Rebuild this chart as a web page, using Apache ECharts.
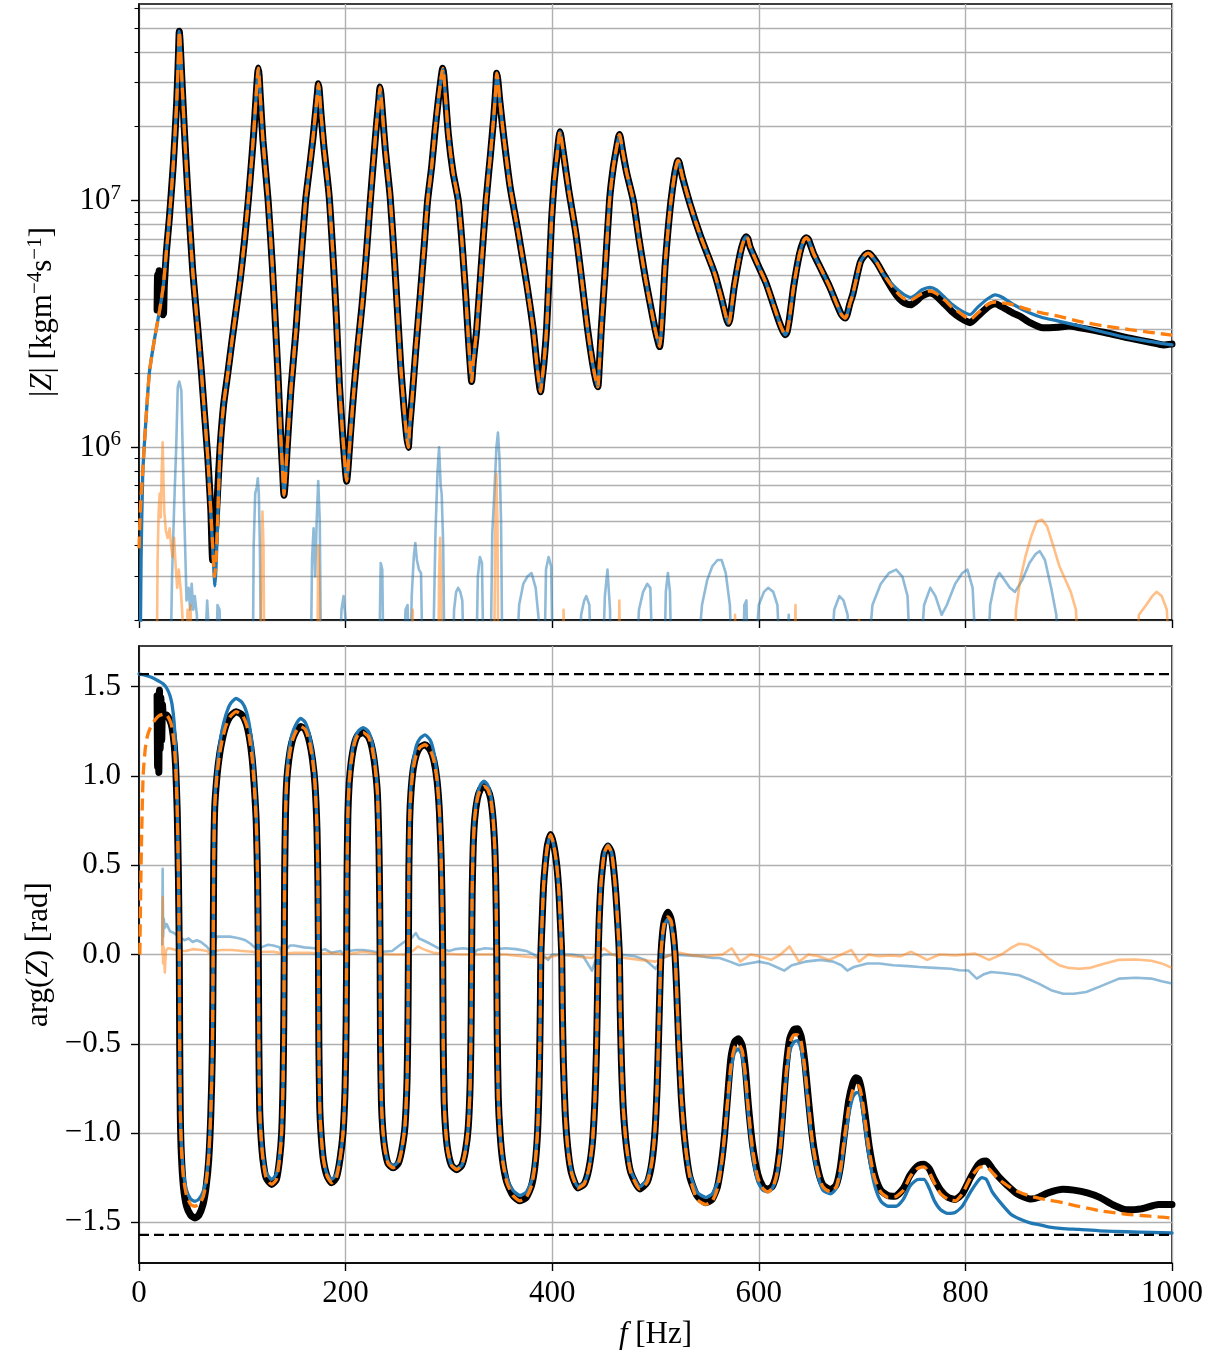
<!DOCTYPE html>
<html><head><meta charset="utf-8">
<script src="https://cdn.jsdelivr.net/npm/echarts@6/dist/echarts.min.js"></script>
<style>html,body{margin:0;padding:0;background:#fff}#c{width:1216px;height:1358px}</style>
</head><body><div id="c"></div>
<script>
// ---------- ticks ----------
const xTicks = [0, 200, 400, 600, 800, 1000];
const zMajor = [1e6, 1e7];
const zMinor = [2e5,3e5,4e5,5e5,6e5,7e5,8e5,9e5,2e6,3e6,4e6,5e6,6e6,7e6,8e6,9e6,2e7,3e7,4e7,5e7,6e7];
const phTicks = [-1.5, -1.0, -0.5, 0.0, 0.5, 1.0, 1.5];
const phLimits = [1.5708, -1.5708];

// ---------- |Z| ----------
const zBlueHead = [[0,1e4],[1,1.0e5],[2,3.5e5],[3.5,7.5e5]];
const zOrangeHead = [[0,3.9e5],[1,5.2e5],[2,6.3e5],[3.5,7.8e5]];
const zRise = [[5,1.0e6],[10,2.0e6],[15,2.75e6],[20,3.6e6],[23.5,4.5e6]];
const zBlackBlob = [[17.5,3.6e6],[18,5.0e6],[18.8,4.4e6],[19.5,5.2e6],[20.3,4.0e6],[21,4.8e6],[21.8,3.6e6],[22.5,4.2e6],[23.2,3.45e6],[23.8,3.5e6],[24.5,4.5e6]];
const zCommonA = [[26.5,6.2e6],[29.4,8.5e6],[33.2,1.4e7],[36.5,2.5e7],[38.2,3.9e7],[39,4.85e7],[39.8,4.4e7],[41.5,3.1e7],[44,1.9e7],[47.7,1.0e7],[52,5.2e6],[57,3.0e6],[60.5,2.0e6],[63.5,1.35e6],[66.5,9.2e5]];
const zBlueT1 = [[69.5,5.5e5],[71.5,3.8e5],[73.6,2.75e5],[74.6,3.3e5],[76,4.8e5]];
const zOrangeT1 = [[69.5,5.5e5],[71.5,3.9e5],[73.2,3.0e5],[74.6,3.5e5],[76,4.9e5]];
const zBlackT1 = [[69.5,5.6e5],[71.3,3.5e5],[72.5,3.7e5],[74.6,5.0e5],[76,6.5e5]];
const zCommonB = [[78.5,1.0e6],[82,1.5e6],[86,2.0e6],[90,2.7e6],[94,3.6e6],[98,4.8e6],[102,6.8e6],[105.8,1.0e7],[109,1.45e7],[111.5,2.0e7],[113.5,2.7e7],[114.8,3.25e7],[115.5,3.44e7],[116.3,3.2e7],[117.5,2.6e7],[120,1.75e7],[125,1.0e7],[129,5.5e6],[132,3.2e6],[134.5,2.0e6],[137,1.15e6],[139,8.0e5],[140.4,6.4e5],[141.5,7.2e5],[143.5,1.0e6],[147,1.7e6],[152,3.0e6],[156,5.2e6],[161.3,1.0e7],[165,1.35e7],[168.5,1.8e7],[171,2.3e7],[172.8,2.75e7],[173.6,2.97e7],[174.5,2.8e7],[176,2.3e7],[179,1.65e7],[184,1.05e7],[188,5.8e6],[191,3.4e6],[194,1.8e6],[197,1.15e6],[199.5,8.4e5],[201,7.3e5],[202.3,8.2e5],[204.5,1.1e6],[208,1.7e6],[212,2.6e6],[216,3.8e6],[220,6.0e6],[223.5,9.5e6],[227,1.45e7],[230,2.05e7],[232.3,2.6e7],[233.3,2.88e7],[234.2,2.7e7],[235.7,2.25e7],[238.5,1.6e7],[243,1.05e7],[247,6.0e6],[250.5,3.4e6],[253.5,2.1e6],[256.5,1.45e6],[259,1.12e6],[260.7,1.0e6],[262,1.2e6],[264.5,1.6e6],[268,2.5e6],[272,4.0e6],[276,6.5e6],[279.4,1.0e7],[283.3,1.37e7],[286.5,1.9e7],[289.8,2.56e7],[292.5,3.15e7],[294,3.43e7],[295,3.25e7],[296.5,2.7e7],[299.5,1.85e7],[304,1.3e7],[309.1,1.0e7],[313,6.5e6],[316.5,4.0e6],[319,2.7e6],[321,2.05e6],[322,1.85e6],[323.5,2.2e6],[326.9,3.0e6],[331,5.2e6],[336,1.0e7],[340,1.5e7],[343.5,2.2e7],[345.5,2.9e7],[346.3,3.28e7],[347.3,3.1e7],[349,2.6e7],[352.7,1.87e7],[359.2,1.14e7],[367.2,7.4e6],[375.3,4.6e6],[381.7,3.0e6],[385.5,2.1e6],[388.8,1.68e6],[390,1.85e6],[392,2.2e6],[394.5,3.0e6],[397,5.0e6],[399.5,8.5e6],[402,1.2e7],[404.5,1.5e7],[406.5,1.8e7],[407.5,1.9e7],[408.5,1.82e7],[411.4,1.5e7],[416,1.1e7],[422.8,7.4e6],[428.5,4.8e6],[434.3,3.0e6],[439,2.2e6],[442.5,1.85e6],[444.2,1.76e6],[445.5,2.1e6],[447.5,3.0e6],[451,5.0e6],[455.5,1.0e7],[459,1.35e7],[462.5,1.65e7],[465,1.85e7],[466,1.8e7],[468,1.6e7],[472,1.3e7],[478.5,1.0e7],[484,7.0e6],[490,4.9e6],[496,3.6e6],[500.5,2.9e6],[504,2.56e6],[505.5,2.9e6],[507.5,4.0e6],[509.2,5.4e6],[512,7.5e6],[515,1.0e7],[518.5,1.28e7],[520.8,1.42e7],[521.8,1.45e7],[523,1.42e7],[526,1.25e7],[534,9.5e6],[543.7,7.15e6],[557,5.1e6],[564,4.0e6],[568.5,3.35e6],[570.4,3.18e6],[572,3.3e6],[574,3.8e6],[576.3,4.5e6],[582,6.1e6],[585.5,6.9e6],[587.7,7.13e6],[589.5,7.0e6],[591.5,6.5e6],[599,5.5e6],[607,4.63e6],[614,3.8e6],[620,3.2e6],[623.5,2.95e6],[625.8,2.86e6],[627.5,2.95e6],[630,3.4e6],[633.8,4.5e6],[639.5,6.1e6],[643.5,6.9e6],[646,7.07e6],[648,6.95e6],[653,6.1e6],[660,5.3e6],[668.3,4.5e6],[675,3.85e6],[680,3.45e6],[683.5,3.34e6],[685.5,3.45e6],[688,3.8e6],[691.2,4.2e6],[698.1,5.6e6],[702.5,6.0e6],[705.8,6.12e6],[708,6.05e6],[714.2,5.6e6],[721,5.0e6]];
const zBlueTail = [[729.6,4.55e6],[736,4.3e6],[741,4.15e6],[747,4.05e6],[752,4.15e6],[758,4.35e6],[765.7,4.45e6],[772,4.35e6],[780,4.05e6],[787,3.8e6],[795,3.6e6],[804.5,3.45e6],[812,3.7e6],[821.6,4.0e6],[828.7,4.15e6],[836,4.05e6],[846,3.8e6],[862.5,3.5e6],[875,3.35e6],[890,3.25e6],[911,3.1e6],[935,2.92e6],[959,2.77e6],[980,2.68e6],[1000,2.6e6]];
const zOrangeTail = [[729.6,4.45e6],[736,4.15e6],[741,4.0e6],[747,3.95e6],[752,4.05e6],[758,4.2e6],[765.7,4.3e6],[772,4.2e6],[780,3.95e6],[787,3.7e6],[795,3.5e6],[804.5,3.3e6],[812,3.5e6],[821.6,3.8e6],[828.7,3.88e6],[836,3.85e6],[846,3.78e6],[862.5,3.6e6],[875,3.5e6],[890,3.4e6],[911,3.23e6],[935,3.1e6],[959,3.0e6],[980,2.92e6],[1000,2.85e6]];
const zBlackTail = [[729.6,4.35e6],[736,4.0e6],[741,3.85e6],[747,3.78e6],[752,3.9e6],[758,4.1e6],[765.7,4.22e6],[772,4.1e6],[780,3.8e6],[787,3.55e6],[795,3.35e6],[804.5,3.2e6],[812,3.4e6],[821.6,3.7e6],[828.7,3.82e6],[836,3.7e6],[846,3.5e6],[852.9,3.4e6],[862.5,3.2e6],[875,3.05e6],[890,3.07e6],[900,3.1e6],[911,3.05e6],[935,2.92e6],[959,2.77e6],[980,2.66e6],[991.6,2.6e6],[1000,2.62e6]];

const errBlueZ = [[30,1e5],[32,3.0e5],[34,5.7e5],[36,1.0e6],[37.5,1.75e6],[39,1.85e6],[41,1.7e6],[42,1.1e6],[43.5,6.0e5],[45,3.5e5],[46,2.4e5],[48,2.7e5],[49.5,2.2e5],[51,2.8e5],[52.5,2.2e5],[54,2.5e5],[56,2.1e5],[58,1e5],[62,1e5],[66,2.4e5],[67,2.0e5],[68,1e5],[74,1e5],[76,2.3e5],[78,2.2e5],[80,1e5],[110,1e5],[111,4.0e5],[112.5,6.5e5],[114,6.9e5],[115,7.5e5],[116,6.5e5],[117,4.0e5],[118.5,1e5],[166,1e5],[167.5,3.5e5],[169,4.7e5],[170.5,3.0e5],[172,5.0e5],[173.5,7.3e5],[175,5.0e5],[176.5,1e5],[193,1e5],[196,2.2e5],[198,2.5e5],[200,2.0e5],[202,1e5],[232,1e5],[234,3.4e5],[235.5,3.2e5],[237,1e5],[255,1e5],[258,2.2e5],[260,2.3e5],[262,1e5],[264,2.5e5],[266,3.6e5],[267.5,4.1e5],[269,3.5e5],[271,3.2e5],[273,3.1e5],[275,1e5],[284,1e5],[287,4.5e5],[289,8.0e5],[290.5,1.0e6],[292,7.0e5],[293,6.5e5],[294.5,4.0e5],[296,1e5],[303,1e5],[305,2.2e5],[307,2.6e5],[309,2.7e5],[311,2.6e5],[313,2.4e5],[315,1e5],[326,1e5],[328,3.0e5],[330,3.6e5],[332,3.4e5],[334,1e5],[340,1e5],[342,4.5e5],[344,6.5e5],[346,1.0e6],[347.5,1.15e6],[349,9.0e5],[350.5,5.0e5],[352,1e5],[364,1e5],[368,2.3e5],[372,2.8e5],[376,3.0e5],[380,3.1e5],[384,2.7e5],[387,2.0e5],[389,1e5],[392,1e5],[394,3.2e5],[396.5,3.6e5],[399,3.3e5],[401,1e5],[425,1e5],[428,2.1e5],[431,2.4e5],[433,2.5e5],[436,2.3e5],[438,1e5],[448,1e5],[451,2.5e5],[453.5,3.2e5],[456,2.2e5],[457,1e5],[480,1e5],[484,2.2e5],[488,2.6e5],[492,2.8e5],[495,2.7e5],[498,1e5],[508,1e5],[510,2.6e5],[512,3.1e5],[514,2.6e5],[516,1e5],[538,1e5],[545,2.3e5],[550,2.9e5],[555,3.3e5],[560,3.5e5],[564,3.5e5],[568,3.1e5],[572,2.3e5],[575,1e5],[584,1e5],[586,2.3e5],[588,2.4e5],[590,1e5],[594,1e5],[600,2.3e5],[605,2.6e5],[609,2.7e5],[614,2.6e5],[618,2.3e5],[622,1e5],[627,1e5],[629,2.1e5],[631,1e5],[668,1e5],[673,2.2e5],[678,2.5e5],[682,2.4e5],[686,2.1e5],[688,1e5],[703,1e5],[710,2.3e5],[718,2.8e5],[726,3.1e5],[733,3.2e5],[739,3.0e5],[744,2.5e5],[748,1e5],[754,1e5],[760,2.3e5],[766,2.7e5],[771,2.5e5],[777,2.1e5],[782,2.3e5],[790,2.8e5],[797,3.1e5],[802,3.2e5],[807,2.7e5],[812,1e5],[820,1e5],[824,2.3e5],[829,2.9e5],[833,3.1e5],[838,2.9e5],[843,2.7e5],[848,2.6e5],[855,2.9e5],[862,3.4e5],[868,3.7e5],[872,3.8e5],[877,3.5e5],[883,2.7e5],[888,2.1e5],[891,1e5],[1000,1e5]];
const errOrangeZ = [[17,1e5],[18,3.5e5],[19,5.5e5],[20,6.5e5],[21,5.2e5],[22,8.0e5],[22.9,1.05e6],[23.8,7.0e5],[24.5,5.5e5],[26,4.6e5],[27.7,4.3e5],[29.7,4.7e5],[31,4.0e5],[32.5,3.6e5],[34,4.3e5],[35.5,3.3e5],[37,2.7e5],[38.5,3.2e5],[40.6,2.6e5],[42,2.1e5],[43,1e5],[46,1e5],[47,2.2e5],[48,2.0e5],[50,2.3e5],[51,1e5],[117,1e5],[118.5,3.0e5],[119.5,5.5e5],[120.5,4.0e5],[121.5,1e5],[172.5,1e5],[173.5,4.0e5],[174.5,3.0e5],[175.5,1e5],[264,1e5],[265,2.2e5],[266,1e5],[289.5,1e5],[290.5,3.0e5],[291.5,4.3e5],[292.5,3.0e5],[293.5,1e5],[343.5,1e5],[345,5.0e5],[346,7.8e5],[347,5.0e5],[348,1e5],[410,1e5],[411,2.2e5],[412,1e5],[464,1e5],[465,2.4e5],[466,1e5],[576,1e5],[577,2.1e5],[578,1e5],[634,1e5],[635.5,2.3e5],[636.5,1e5],[696,1e5],[697,2.0e5],[698,1e5],[846,1e5],[849,2.2e5],[853,2.9e5],[858,3.6e5],[864,4.4e5],[869,5.0e5],[874,5.1e5],[879,4.8e5],[885,4.0e5],[891,3.3e5],[897,2.9e5],[902,2.6e5],[907,2.2e5],[911,1e5],[962,1e5],[968,2.1e5],[975,2.3e5],[981,2.5e5],[985,2.6e5],[990,2.5e5],[995,2.2e5],[999,1e5],[1000,1e5]];

// ---------- arg(Z) ----------
const phBlue = [[0,1.571],[5,1.566],[10,1.557],[15,1.545],[19,1.532],[23.6,1.515],[27,1.49],[30,1.45],[32,1.40],[34,1.30],[35.5,1.15],[37,0.85],[38.2,0.45],[39,0.0],[39.4,-0.5],[40,-0.85],[41,-1.05],[43,-1.22],[46,-1.32],[50,-1.37],[54.2,-1.382],[58,-1.37],[62,-1.33],[65,-1.26],[67.5,-1.12],[69.5,-0.88],[71,-0.55],[71.8,0.0],[72.3,0.5],[73.3,0.85],[75.5,1.04],[78,1.17],[80.5,1.26],[84,1.34],[88,1.40],[93.9,1.434],[100,1.41],[104,1.36],[107,1.28],[109.5,1.17],[111.5,1.0],[113.5,0.78],[114.8,0.45],[115.5,0.0],[116,-0.5],[116.8,-0.85],[118.1,-1.0],[120,-1.13],[123,-1.22],[128.4,-1.26],[133,-1.23],[136,-1.13],[138.1,-0.98],[139.5,-0.7],[140.2,-0.35],[140.6,0.0],[141,0.45],[141.8,0.8],[143,1.0],[145,1.13],[148,1.23],[152,1.29],[156.5,1.322],[161,1.3],[165,1.23],[168,1.12],[170.4,0.98],[172.3,0.72],[173.2,0.4],[173.7,0.0],[174.1,-0.5],[175,-0.85],[176.3,-1.0],[178.5,-1.14],[182,-1.23],[186.5,-1.26],[191,-1.23],[194.5,-1.14],[197.5,-1.0],[199.5,-0.75],[200.5,-0.4],[201,0.0],[201.4,0.45],[202.2,0.8],[203.5,0.98],[205.5,1.1],[208.5,1.2],[212,1.25],[217,1.271],[222,1.25],[225.5,1.19],[228.5,1.08],[230.8,0.92],[232.3,0.62],[233,0.3],[233.4,0.0],[233.8,-0.5],[234.7,-0.82],[236,-0.97],[238,-1.08],[241,-1.16],[246,-1.185],[251,-1.16],[254.5,-1.08],[257.5,-0.95],[259.5,-0.7],[260.4,-0.35],[260.8,0.0],[261.2,0.45],[262,0.78],[263.3,0.95],[265.5,1.08],[268.5,1.17],[272,1.21],[276.9,1.23],[282,1.2],[285.5,1.13],[288.5,1.0],[290.8,0.82],[292.5,0.55],[293.5,0.25],[294,0.0],[294.5,-0.5],[295.4,-0.82],[296.8,-0.98],[299,-1.1],[302.5,-1.18],[307.5,-1.2],[312.5,-1.18],[316,-1.1],[318.7,-0.97],[320.6,-0.72],[321.6,-0.35],[322,0.0],[322.5,0.35],[323.5,0.62],[325,0.78],[327.5,0.89],[330.5,0.95],[334,0.971],[337.5,0.95],[340.5,0.89],[343,0.76],[344.8,0.55],[345.8,0.27],[346.3,0.0],[346.8,-0.45],[347.8,-0.8],[349.5,-1.0],[352,-1.14],[356,-1.25],[362,-1.32],[368.8,-1.35],[375,-1.33],[380,-1.27],[383.5,-1.15],[386,-0.95],[387.7,-0.62],[388.6,-0.25],[389,0.0],[390.3,0.2],[391.6,0.38],[393.2,0.5],[395.5,0.61],[398.5,0.67],[401.5,0.61],[404.4,0.5],[406.5,0.35],[408,0.17],[409.2,0.0],[409.8,-0.3],[410.8,-0.6],[412.5,-0.88],[415,-1.08],[418.5,-1.21],[425,-1.3],[431,-1.28],[435.5,-1.2],[439,-1.05],[441.3,-0.82],[442.8,-0.55],[443.8,-0.25],[444.5,0.0],[445.5,0.2],[447,0.38],[448.5,0.48],[450.5,0.57],[454,0.612],[457.5,0.57],[459.5,0.48],[461.5,0.35],[463.5,0.17],[465,0.0],[465.8,-0.3],[467,-0.6],[469,-0.88],[472,-1.08],[476,-1.21],[484.8,-1.3],[492,-1.26],[496.5,-1.15],[499.5,-0.98],[501.5,-0.75],[503,-0.46],[504.2,-0.2],[505.3,0.0],[507,0.11],[509,0.17],[512,0.2],[515,0.17],[517,0.1],[518.9,0.0],[520.5,-0.2],[522.5,-0.5],[525,-0.8],[528.5,-1.05],[533,-1.22],[540,-1.33],[548.6,-1.36],[555,-1.34],[560,-1.28],[564,-1.16],[567,-1.01],[570,-0.82],[573,-0.65],[576.5,-0.55],[580.2,-0.529],[584,-0.57],[587,-0.7],[590,-0.9],[594,-1.12],[599,-1.27],[604,-1.32],[608.5,-1.33],[613,-1.31],[617,-1.25],[620.5,-1.11],[623.5,-0.91],[626.5,-0.69],[630,-0.54],[634,-0.49],[637.5,-0.482],[641,-0.53],[644.5,-0.66],[648,-0.86],[652,-1.07],[657,-1.23],[662,-1.32],[669.6,-1.34],[675,-1.31],[679,-1.22],[683,-1.05],[687,-0.9],[691,-0.8],[694,-0.775],[696.6,-0.773],[699.5,-0.83],[703,-0.97],[707,-1.14],[712,-1.29],[718,-1.38],[725,-1.41],[733,-1.41],[740,-1.37],[746,-1.3],[751,-1.27],[755,-1.26],[760,-1.26],[765,-1.31],[770,-1.38],[776,-1.43],[783,-1.45],[790,-1.445],[797,-1.41],[805,-1.33],[812,-1.27],[816,-1.25],[820.3,-1.26],[826,-1.33],[832.5,-1.38],[844,-1.455],[852,-1.48],[863.5,-1.505],[871,-1.513],[880,-1.525],[894.5,-1.535],[910,-1.54],[930,-1.548],[956,-1.553],[980,-1.557],[1000,-1.56]];
const phOrangeHead = [[0.8,0.0],[1.5,0.3],[2.5,0.65],[4,1.0],[6,1.15],[8,1.22],[11,1.27],[15,1.31],[19,1.336]];
const phBlackBlob = [[17.5,1.45],[18,1.05],[18.6,1.35],[19.2,1.02],[19.8,1.48],[20.5,1.15],[21.2,1.44],[22,1.2],[22.8,1.4]];
const phCommonA = [[23.6,1.346],[27,1.34],[30,1.31],[32,1.27],[34,1.18],[35.5,1.05],[37,0.8],[38.2,0.42],[39,0.0],[39.4,-0.5]];
const phOrangeT1 = [[40,-0.88],[41,-1.08],[43,-1.25],[46,-1.35],[50,-1.40],[54.2,-1.41],[58,-1.40],[62,-1.36],[65,-1.28],[67.5,-1.13],[69.5,-0.88],[71,-0.55]];
const phBlackT1 = [[40,-0.9],[41,-1.12],[43,-1.3],[46,-1.41],[50,-1.46],[54.2,-1.476],[58,-1.46],[62,-1.4],[65,-1.3],[67.5,-1.15],[69.5,-0.9],[71,-0.55]];
const phCommonB = [[71.8,0.0],[72.3,0.5],[73.3,0.82],[75.5,1.0],[78,1.12],[80.5,1.2],[84,1.28],[88,1.33],[93.9,1.36],[100,1.34],[104,1.29],[107,1.21],[109.5,1.1],[111.5,0.95],[113.5,0.74],[114.8,0.42],[115.5,0.0],[116,-0.5],[116.8,-0.86],[118.1,-1.02],[120,-1.15],[123,-1.25],[128.4,-1.288],[133,-1.26],[136,-1.15],[138.1,-1.0],[139.5,-0.7],[140.2,-0.35],[140.6,0.0],[141,0.45],[141.8,0.78],[143,0.97],[145,1.09],[148,1.19],[152,1.25],[156.5,1.277],[161,1.26],[165,1.19],[168,1.09],[170.4,0.95],[172.3,0.7],[173.2,0.4],[173.7,0.0],[174.1,-0.5],[175,-0.86],[176.3,-1.01],[178.5,-1.15],[182,-1.24],[186.5,-1.279],[191,-1.25],[194.5,-1.15],[197.5,-1.0],[199.5,-0.75],[200.5,-0.4],[201,0.0],[201.4,0.45],[202.2,0.78],[203.5,0.96],[205.5,1.08],[208.5,1.18],[212,1.23],[217,1.243],[222,1.22],[225.5,1.16],[228.5,1.05],[230.8,0.9],[232.3,0.6],[233,0.3],[233.4,0.0],[233.8,-0.5],[234.7,-0.83],[236,-0.98],[238,-1.09],[241,-1.17],[246,-1.195],[251,-1.17],[254.5,-1.09],[257.5,-0.96],[259.5,-0.7],[260.4,-0.35],[260.8,0.0],[261.2,0.45],[262,0.75],[263.3,0.91],[265.5,1.04],[268.5,1.12],[272,1.16],[276.9,1.175],[282,1.145],[285.5,1.085],[288.5,0.975],[290.8,0.8],[292.5,0.54],[293.5,0.25],[294,0.0],[294.5,-0.5],[295.4,-0.82],[296.8,-0.98],[299,-1.1],[302.5,-1.18],[307.5,-1.205],[312.5,-1.18],[316,-1.1],[318.7,-0.97],[320.6,-0.72],[321.6,-0.35],[322,0.0],[322.5,0.34],[323.5,0.6],[325,0.76],[327.5,0.87],[330.5,0.925],[334,0.943],[337.5,0.925],[340.5,0.87],[343,0.74],[344.8,0.54],[345.8,0.26],[346.3,0.0],[346.8,-0.45],[347.8,-0.8],[349.5,-1.0],[352,-1.155],[356,-1.275],[362,-1.35],[368.8,-1.38],[375,-1.36],[380,-1.295],[383.5,-1.175],[386,-0.975],[387.7,-0.62],[388.6,-0.25],[389,0.0],[390.3,0.2],[391.6,0.38],[393.2,0.5],[395.5,0.615],[398.5,0.672],[401.5,0.615],[404.4,0.5],[406.5,0.35],[408,0.17],[409.2,0.0],[409.8,-0.3],[410.8,-0.6],[412.5,-0.88],[415,-1.08],[418.5,-1.22],[425,-1.308],[431,-1.285],[435.5,-1.2],[439,-1.05],[441.3,-0.82],[442.8,-0.55],[443.8,-0.25],[444.5,0.0],[445.5,0.2],[447,0.38],[448.5,0.48],[450.5,0.57],[454,0.608],[457.5,0.57],[459.5,0.48],[461.5,0.35],[463.5,0.17],[465,0.0],[465.8,-0.3],[467,-0.6],[469,-0.88],[472,-1.08],[476,-1.22],[484.8,-1.313],[492,-1.275],[496.5,-1.165],[499.5,-0.99],[501.5,-0.75],[503,-0.46],[504.2,-0.2]];
const phOrangeTail = [[505.3,0.0],[507,0.12],[509,0.19],[512,0.21],[515,0.19],[517,0.12],[518.9,0.0],[520.5,-0.2],[522.5,-0.5],[525,-0.8],[528.5,-1.05],[533,-1.24],[540,-1.37],[548.6,-1.40],[555,-1.38],[560,-1.31],[564,-1.17],[567,-1.0],[570,-0.8],[573,-0.62],[576.5,-0.52],[580.2,-0.5],[584,-0.54],[587,-0.67],[590,-0.87],[594,-1.09],[599,-1.25],[604,-1.31],[608.5,-1.33],[613,-1.31],[617,-1.24],[620.5,-1.1],[623.5,-0.89],[626.5,-0.66],[630,-0.5],[634,-0.45],[637.5,-0.45],[641,-0.49],[644.5,-0.63],[648,-0.83],[652,-1.05],[657,-1.21],[662,-1.3],[669.6,-1.33],[675,-1.3],[679,-1.2],[683,-1.02],[687,-0.86],[691,-0.76],[694,-0.735],[696.6,-0.735],[699.5,-0.79],[703,-0.93],[707,-1.1],[712,-1.25],[718,-1.33],[725,-1.36],[733,-1.355],[740,-1.32],[746,-1.25],[751,-1.21],[755,-1.195],[760,-1.19],[765,-1.22],[770,-1.28],[776,-1.34],[783,-1.37],[790,-1.38],[797,-1.34],[805,-1.25],[812,-1.2],[816,-1.19],[820.3,-1.19],[826,-1.22],[832.5,-1.26],[844,-1.307],[852,-1.33],[863.5,-1.355],[871,-1.365],[880,-1.375],[894.5,-1.39],[905,-1.405],[918,-1.42],[930,-1.435],[942,-1.445],[956,-1.455],[970,-1.462],[987,-1.47],[1000,-1.476]];
const phBlackTail = [[505.3,0.0],[507,0.13],[509,0.2],[512,0.237],[515,0.2],[517,0.13],[518.9,0.0],[520.5,-0.2],[522.5,-0.5],[525,-0.8],[528.5,-1.05],[533,-1.24],[540,-1.35],[548.6,-1.39],[555,-1.37],[560,-1.3],[564,-1.16],[567,-1.0],[570,-0.78],[573,-0.58],[576.5,-0.49],[580.2,-0.472],[584,-0.51],[587,-0.64],[590,-0.85],[594,-1.07],[599,-1.23],[604,-1.3],[608.5,-1.316],[613,-1.3],[617,-1.23],[620.5,-1.08],[623.5,-0.86],[626.5,-0.63],[630,-0.47],[634,-0.42],[637.5,-0.416],[641,-0.46],[644.5,-0.6],[648,-0.81],[652,-1.03],[657,-1.2],[662,-1.29],[669.6,-1.316],[675,-1.29],[679,-1.19],[683,-1.0],[687,-0.82],[691,-0.72],[694,-0.69],[696.6,-0.697],[699.5,-0.76],[703,-0.9],[707,-1.08],[712,-1.23],[718,-1.32],[725,-1.35],[732,-1.354],[740,-1.31],[746,-1.24],[751,-1.2],[755,-1.18],[760,-1.175],[765,-1.2],[770,-1.26],[776,-1.32],[783,-1.36],[790,-1.372],[797,-1.34],[805,-1.25],[812,-1.18],[816,-1.16],[820.3,-1.157],[826,-1.2],[833,-1.25],[840,-1.29],[850,-1.34],[863.5,-1.37],[871,-1.36],[880,-1.335],[894.5,-1.315],[905,-1.32],[918,-1.335],[930,-1.36],[942,-1.4],[956,-1.43],[970,-1.425],[987,-1.4],[1000,-1.4]];

const errBluePh = [[22.5,0.05],[22.9,0.48],[23.3,0.1],[24,0.2],[25,0.15],[26.8,0.17],[30,0.13],[34,0.12],[39,0.1],[44,0.08],[48,0.09],[52,0.07],[55.8,0.08],[60,0.07],[65.5,0.045],[69,0.02],[71,-0.05],[72,-0.1],[73,0.05],[75,0.1],[80,0.1],[88,0.1],[93,0.095],[97.6,0.09],[103,0.08],[108,0.06],[112,0.04],[114,0.035],[116,0.02],[118,0.04],[125,0.055],[130,0.05],[136,0.04],[139,0.0],[141,0.02],[146,0.05],[150,0.05],[160,0.04],[170,0.035],[175,0.02],[180,0.03],[186,0.01],[195,0.02],[201,-0.02],[203,0.02],[210,0.025],[217,0.025],[225,0.02],[232,0.01],[236,0.015],[245,0.02],[252,0.05],[259,0.08],[262,0.08],[265,0.1],[268,0.12],[271,0.09],[275,0.08],[282,0.06],[290,0.035],[295,0.03],[300,0.02],[306,0.03],[314,0.035],[320,0.03],[324,0.0],[327,0.025],[335,0.035],[345,0.03],[355,0.035],[365,0.03],[375,0.02],[382,0.0],[388,-0.02],[392,-0.01],[396,-0.03],[400,0.0],[407,0.0],[413,0.0],[419,0.0],[430,-0.01],[438.5,-0.09],[442,-0.03],[450,0.0],[465,0.0],[480,-0.01],[490,-0.03],[500,-0.08],[506,-0.02],[516,0.0],[530,-0.005],[543,-0.01],[555,-0.02],[562,-0.02],[572,-0.04],[581,-0.06],[590,-0.05],[600,-0.04],[609,-0.05],[617,-0.07],[624.6,-0.09],[632,-0.06],[645,-0.04],[660,-0.03],[672,-0.04],[680,-0.06],[685.7,-0.09],[692,-0.07],[705,-0.05],[716.8,-0.05],[730,-0.06],[745,-0.065],[755.4,-0.07],[770,-0.075],[786,-0.08],[794,-0.088],[803,-0.09],[811,-0.135],[818,-0.11],[824.8,-0.098],[838,-0.105],[852,-0.116],[862,-0.14],[871,-0.163],[883,-0.2],[894.7,-0.22],[905,-0.22],[917,-0.21],[930,-0.18],[948.7,-0.135],[965,-0.13],[980,-0.135],[990,-0.15],[1000,-0.163]];
const errOrangePh = [[22.5,0.0],[22.9,0.32],[23.3,-0.05],[24,0.04],[25,-0.1],[26,0.02],[28,0.035],[33,0.03],[39,0.02],[45,0.02],[52,0.03],[60,0.025],[66,0.02],[69,0.0],[70.5,-0.2],[71.5,-0.1],[72.5,0.02],[80,0.025],[90,0.025],[100,0.02],[110,0.015],[115,0.01],[120,0.015],[130,0.015],[140,0.005],[150,0.01],[165,0.01],[175,0.005],[185,0.01],[200,0.0],[217,0.015],[230,0.005],[245,0.0],[258,0.0],[265,0.02],[270,0.045],[275,0.03],[285,0.01],[295,0.005],[310,0.0],[325,0.0],[340,0.0],[355,0.0],[370,-0.01],[380,-0.015],[395,-0.02],[407.5,0.0],[420,-0.01],[430,-0.015],[438.5,-0.02],[450,0.035],[458,0.0],[470,-0.02],[485,-0.03],[500,-0.04],[511,-0.01],[523.5,0.01],[535,-0.005],[550,-0.01],[565,0.0],[573.8,0.035],[582,-0.04],[592,0.0],[600,-0.01],[612,-0.03],[621,0.0],[629.7,0.045],[639,-0.04],[648,0.0],[658,-0.01],[668,-0.03],[680,0.0],[689.6,0.025],[697,-0.04],[706,0.0],[716,-0.01],[728,-0.005],[737,-0.01],[747.6,0.015],[763,-0.03],[775,0.0],[790,-0.005],[809.5,0.005],[823,-0.03],[835,0.0],[845,0.04],[852,0.06],[860,0.055],[871,0.025],[880,-0.02],[890.7,-0.06],[900,-0.075],[910,-0.08],[920,-0.075],[935,-0.05],[948.7,-0.03],[965,-0.028],[980,-0.035],[990,-0.05],[1000,-0.075]];

// ---------- chart ----------
const FONT = '"Liberation Serif","DejaVu Serif",serif';
const FS = 31;
const GRIDC = '#b0b0b0';
const BLUE = '#1f77b4', ORANGE = '#ff7f0e';
const chart = echarts.init(document.getElementById('c'), null, {renderer: 'canvas'});

function line(name, data, xi, yi, color, width, extra) {
  return Object.assign({
    name, type: 'line', data, xAxisIndex: xi, yAxisIndex: yi,
    showSymbol: false, symbol: 'none', animation: false, clip: true, silent: true,
    lineStyle: {color, width, join: 'round', cap: 'round'}
  }, extra || {});
}
function lightLine(name, data, xi, yi, color) {
  return line(name, data, xi, yi, color, 2.6, {lineStyle: {color, width: 2.6, opacity: 0.5, join: 'round'}});
}
const supRich = {
  b: {fontSize: FS, fontFamily: FONT, color: '#000'},
  s: {fontSize: 21, fontFamily: FONT, color: '#000', padding: [0, 0, 15, 0]},
  i: {fontSize: FS, fontFamily: FONT, color: '#000', fontStyle: 'italic'}
};
function xAxisDef(gi, showLabels) {
  return {
    type: 'value', gridIndex: gi, min: xTicks[0], max: xTicks[xTicks.length - 1], interval: xTicks[1] - xTicks[0],
    axisLine: {show: true, onZero: false, lineStyle: {color: '#000', width: 1.6}},
    axisTick: {show: true, inside: false, length: 8, lineStyle: {color: '#000', width: 1.4}},
    axisLabel: {show: showLabels, fontSize: FS, fontFamily: FONT, color: '#000', margin: 15,
      formatter: v => String(v)},
    splitLine: {show: true, lineStyle: {color: GRIDC, width: 1.4}},
    name: showLabels ? '{i|f} [Hz]' : '', nameLocation: 'middle', nameGap: 56,
    nameTextStyle: {fontSize: FS, fontFamily: FONT, color: '#000', rich: supRich}
  };
}
const option = {
  backgroundColor: '#fff',
  animation: false,
  grid: [
    {left: 139, right: 44, top: 4, height: 616, show: true, borderColor: '#000', borderWidth: 1.6, backgroundColor: 'transparent'},
    {left: 139, right: 44, top: 646, height: 617, show: true, borderColor: '#000', borderWidth: 1.6, backgroundColor: 'transparent'}
  ],
  xAxis: [xAxisDef(0, false), xAxisDef(1, true)],
  yAxis: [
    {
      type: 'log', logBase: 10, gridIndex: 0, min: 2e5, max: 6.25e7, position: 'left',
      axisLine: {show: true, lineStyle: {color: '#000', width: 1.6}},
      axisTick: {show: true, inside: false, length: 8, customValues: zMajor, lineStyle: {color: '#000', width: 1.4}},
      axisLabel: {show: true, customValues: zMajor, margin: 18,
        formatter: v => '{b|10}{s|' + Math.round(Math.log10(v)) + '}', rich: supRich},
      splitLine: {show: true, lineStyle: {color: GRIDC, width: 1.4}},
      name: '|{i|Z}| [kgm{s|−4}s{s|−1}]', nameLocation: 'middle', nameRotate: 90, nameGap: 78,
      nameTextStyle: {fontSize: FS, fontFamily: FONT, color: '#000', rich: supRich}
    },
    {
      type: 'log', logBase: 10, gridIndex: 0, min: 2e5, max: 6.25e7, position: 'left', offset: 0,
      axisLine: {show: false},
      axisTick: {show: true, inside: false, length: 4.5, customValues: zMinor, lineStyle: {color: '#000', width: 1.1}},
      axisLabel: {show: false},
      splitLine: {show: true, lineStyle: {color: GRIDC, width: 1.4}}
    },
    {
      type: 'value', gridIndex: 1, min: -1.728, max: 1.728, position: 'left',
      axisLine: {show: true, onZero: false, lineStyle: {color: '#000', width: 1.6}},
      axisTick: {show: true, inside: false, length: 8, customValues: phTicks, lineStyle: {color: '#000', width: 1.4}},
      axisLabel: {show: true, customValues: phTicks, margin: 18, fontSize: FS, fontFamily: FONT, color: '#000',
        formatter: v => (v < 0 ? '−' : '') + Math.abs(v).toFixed(1)},
      splitLine: {show: true, lineStyle: {color: GRIDC, width: 1.4}},
      name: 'arg({i|Z}) [rad]', nameLocation: 'middle', nameRotate: 90, nameGap: 78,
      nameTextStyle: {fontSize: FS, fontFamily: FONT, color: '#000', rich: supRich}
    }
  ],
  series: [
    lightLine('errBlueZ', errBlueZ, 0, 0, BLUE),
    lightLine('errOrangeZ', errOrangeZ, 0, 0, ORANGE),
    line('measZ', zBlackBlob.concat(zCommonA, zBlackT1, zCommonB, zBlackTail), 0, 0, '#000', 7, {smooth: 0.2}),
    line('model1Z', zBlueHead.concat(zRise, zCommonA, zBlueT1, zCommonB, zBlueTail), 0, 0, BLUE, 3.3, {smooth: 0.2}),
    line('model2Z', zOrangeHead.concat(zRise, zCommonA, zOrangeT1, zCommonB, zOrangeTail), 0, 0, ORANGE, 3.3,
      {smooth: 0.2, lineStyle: {color: ORANGE, width: 3.3, type: [12, 6], cap: 'butt'}}),

    lightLine('errBluePh', errBluePh, 1, 2, BLUE),
    lightLine('errOrangePh', errOrangePh, 1, 2, ORANGE),
    line('measPh', phBlackBlob.concat(phCommonA, phBlackT1, phCommonB, phBlackTail), 1, 2, '#000', 7, {smooth: 0.2}),
    line('model1Ph', phBlue, 1, 2, BLUE, 3.3, {smooth: 0.2}),
    line('model2Ph', phOrangeHead.concat(phCommonA, phOrangeT1, phCommonB, phOrangeTail), 1, 2, ORANGE, 3.3,
      {smooth: 0.2, lineStyle: {color: ORANGE, width: 3.3, type: [12, 6], cap: 'butt'}}),
    line('upperLimit', [[xTicks[0], phLimits[0]], [xTicks[5], phLimits[0]]], 1, 2, '#000', 2.3, {lineStyle: {color: '#000', width: 2.3, type: [10, 5]}}),
    line('lowerLimit', [[xTicks[0], phLimits[1]], [xTicks[5], phLimits[1]]], 1, 2, '#000', 2.3, {lineStyle: {color: '#000', width: 2.3, type: [10, 5]}})
  ]
};
chart.setOption(option);
</script></body></html>
